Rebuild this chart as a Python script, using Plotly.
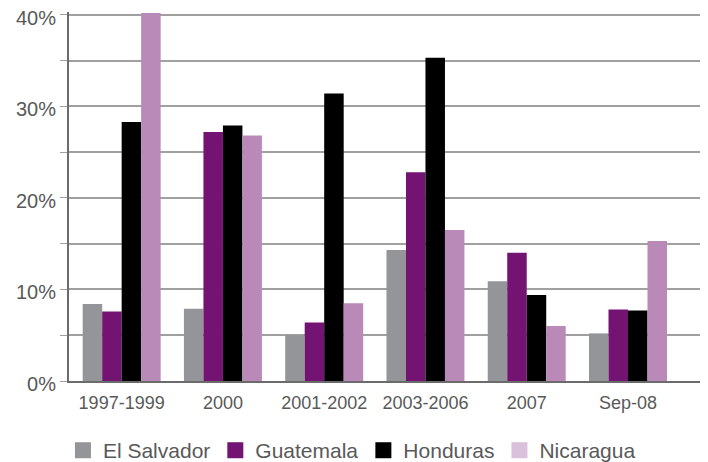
import plotly.graph_objects as go

categories = ["1997-1999", "2000", "2001-2002", "2003-2006", "2007", "Sep-08"]
el_salvador = [8.4, 7.9, 5.0, 14.3, 10.9, 5.2]
guatemala = [7.6, 27.2, 6.4, 22.8, 14.0, 7.8]
honduras = [28.3, 27.9, 31.4, 35.3, 9.4, 7.7]
nicaragua = [40.2, 26.8, 8.5, 16.5, 6.0, 15.3]
y_ticks = [0, 10, 20, 30, 40]
y_tick_labels = ["0%", "10%", "20%", "30%", "40%"]

series = [
    ("El Salvador", el_salvador, "#939598", "#939598"),
    ("Guatemala", guatemala, "#741472", "#741472"),
    ("Honduras", honduras, "#000000", "#000000"),
    ("Nicaragua", nicaragua, "#B98AB8", "#D9C1DC"),
]

fig = go.Figure()
for name, vals, col, _ in series:
    fig.add_trace(go.Bar(x=categories, y=vals, name=name, marker_color=col,
                         marker_line_width=0, showlegend=False))
for name, _, _, lcol in series:
    fig.add_trace(go.Scatter(x=[None], y=[None], mode="markers", name=name,
                             marker=dict(symbol="square", size=16, color=lcol),
                             showlegend=True))

txt = "#595959"
fig.update_layout(
    width=708, height=462,
    margin=dict(l=61, r=8, t=4, b=89, autoexpand=False),
    paper_bgcolor="white", plot_bgcolor="white",
    barmode="group", bargap=0.23, bargroupgap=0,
    font=dict(family="Liberation Sans, Arial, sans-serif", color=txt, size=18),
    showlegend=True,
    legend=dict(orientation="h", x=-0.0095, xanchor="left", y=-0.133, yanchor="top",
                font=dict(size=21, color=txt), itemwidth=30,
                bgcolor="rgba(0,0,0,0)", tracegroupgap=0),
    xaxis=dict(type="category", range=[-0.52, 5.79], showgrid=False, automargin=False,
               showline=True, linecolor="#6B6B6B", linewidth=2,
               ticks="outside", ticklen=4, tickcolor="rgba(0,0,0,0)",
               tickfont=dict(size=18, color=txt), zeroline=False, fixedrange=True),
    yaxis=dict(range=[0, 40.3], tickvals=y_ticks, ticktext=y_tick_labels, automargin=False,
               ticklabeloverflow="allow", ticklabelshift=3,
               showgrid=True, gridcolor="#A0A0A0", gridwidth=1.5,
               showline=True, linecolor="#6B6B6B", linewidth=2,
               ticks="outside", ticklen=7, tickcolor="#A0A0A0",
               minor=dict(dtick=5, tick0=0, showgrid=True, gridcolor="#A0A0A0",
                          gridwidth=1.5, ticks="outside", ticklen=7, tickcolor="#A0A0A0"),
               tickfont=dict(size=20, color=txt), zeroline=False, fixedrange=True),
)

fig.write_html("out.html")
